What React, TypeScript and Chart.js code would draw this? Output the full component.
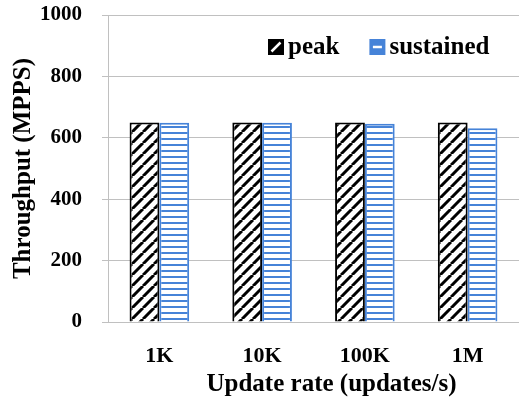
import React, { useEffect, useRef } from 'react';
import { Chart, registerables } from 'chart.js';

Chart.register(...registerables);

// Update rates on the x axis and throughput per rate (MPPS)
const categories = ['1K', '10K', '100K', '1M'];
const peak = [650, 650, 650, 650];
const sustained = [649, 649, 646, 631];
const yTicks = [0, 200, 400, 600, 800, 1000];
const seriesNames = ['peak', 'sustained'];
const xTitle = 'Update rate (updates/s)';
const yTitle = 'Throughput (MPPS)';

const BLUE = '#4683d8';
const GRID = '#c0c0c0';
const SERIF = '"Liberation Serif", "Times New Roman", serif';

// White tile with black "/" hatching
function hatchPattern(): CanvasPattern | string {
  const size = 11;
  const c = document.createElement('canvas');
  c.width = size;
  c.height = size;
  const g = c.getContext('2d');
  if (!g) return '#000';
  g.fillStyle = '#fff';
  g.fillRect(0, 0, size, size);
  g.strokeStyle = '#000';
  g.lineWidth = 3;
  g.beginPath();
  for (const off of [-size, 0, size]) {
    g.moveTo(off, size);
    g.lineTo(off + size, 0);
  }
  g.stroke();
  return g.createPattern(c, 'repeat') || '#000';
}

// White tile with a horizontal blue band
function stripePattern(): CanvasPattern | string {
  const c = document.createElement('canvas');
  c.width = 6;
  c.height = 6;
  const g = c.getContext('2d');
  if (!g) return BLUE;
  g.fillStyle = '#fff';
  g.fillRect(0, 0, 6, 6);
  g.fillStyle = BLUE;
  g.fillRect(0, 0, 6, 2);
  return g.createPattern(c, 'repeat') || BLUE;
}

// Legend inside the plot area plus the x-axis title, slightly right of centre
const overlays = {
  id: 'overlays',
  afterDraw(chart: any) {
    const { ctx, chartArea } = chart;
    const box = 16;
    let x = chartArea.left + 160;
    const yMid = chartArea.top + 32;
    ctx.save();
    ctx.font = `bold 25px ${SERIF}`;
    ctx.textBaseline = 'middle';
    ctx.textAlign = 'left';
    chart.data.datasets.forEach((ds: any) => {
      const top = yMid - box / 2;
      ctx.fillStyle = ds.borderColor;
      ctx.fillRect(x, top, box, box);
      ctx.strokeStyle = '#fff';
      ctx.lineWidth = 2.5;
      ctx.beginPath();
      if (ds.mark === 'diag') {
        ctx.moveTo(x + 3.5, top + box - 3.5);
        ctx.lineTo(x + box - 3.5, top + 3.5);
      } else {
        ctx.moveTo(x + 3.5, top + box / 2);
        ctx.lineTo(x + box - 3.5, top + box / 2);
      }
      ctx.stroke();
      ctx.fillStyle = '#000';
      ctx.fillText(ds.label, x + box + 4, yMid + 1);
      x += box + 4 + ctx.measureText(ds.label).width + 30;
    });

    ctx.textAlign = 'center';
    ctx.fillText(xTitle, (chartArea.left + chartArea.right) / 2 + 18, chart.height - 20);
    ctx.restore();
  },
};

export default function App() {
  const ref = useRef<HTMLCanvasElement | null>(null);

  useEffect(() => {
    if (!ref.current) return;
    const chart = new Chart(ref.current, {
      type: 'bar',
      data: {
        labels: categories,
        datasets: [
          {
            label: seriesNames[0],
            data: peak,
            backgroundColor: hatchPattern() as any,
            borderColor: '#000',
            borderWidth: 2,
            mark: 'diag',
          } as any,
          {
            label: seriesNames[1],
            data: sustained,
            backgroundColor: stripePattern() as any,
            borderColor: BLUE,
            borderWidth: 2,
            mark: 'bar',
          } as any,
        ],
      },
      plugins: [overlays],
      options: {
        animation: false,
        responsive: true,
        maintainAspectRatio: false,
        layout: { padding: { top: 15, right: 0, left: 0, bottom: 0 } },
        datasets: {
          bar: { categoryPercentage: 0.58, barPercentage: 1 },
        },
        plugins: {
          legend: { display: false },
          tooltip: { enabled: false },
        },
        scales: {
          x: {
            grid: { display: false, drawTicks: false },
            border: { display: true, color: GRID, width: 1 },
            ticks: {
              color: '#000',
              padding: 21,
              font: { family: SERIF, size: 22, weight: 'bold' },
            },
            afterFit(scale: any) {
              scale.height = 83;
              scale.paddingLeft = 0;
              scale.paddingRight = 0;
            },
          },
          y: {
            min: 0,
            max: 1000,
            afterBuildTicks(scale: any) {
              scale.ticks = yTicks.map((v) => ({ value: v }));
            },
            grid: { color: GRID, lineWidth: 1, tickLength: 6, tickColor: GRID },
            border: { display: true, color: GRID, width: 1 },
            ticks: {
              color: '#000',
              padding: 20,
              font: { family: SERIF, size: 21, weight: 'bold' },
              callback: (v: any) => String(v),
            },
            title: {
              display: true,
              text: yTitle,
              color: '#000',
              font: { family: SERIF, size: 25, weight: 'bold' },
              padding: { top: 9, bottom: 0 },
            },
            afterFit(scale: any) {
              scale.width = 108;
              scale.paddingTop = 0;
              scale.paddingBottom = 0;
            },
          },
        },
      } as any,
    });
    return () => chart.destroy();
  }, []);

  return (
    <div style={{ position: 'absolute', left: 0, top: 0, width: 519, height: 405, background: '#fff' }}>
      <canvas ref={ref} />
    </div>
  );
}
